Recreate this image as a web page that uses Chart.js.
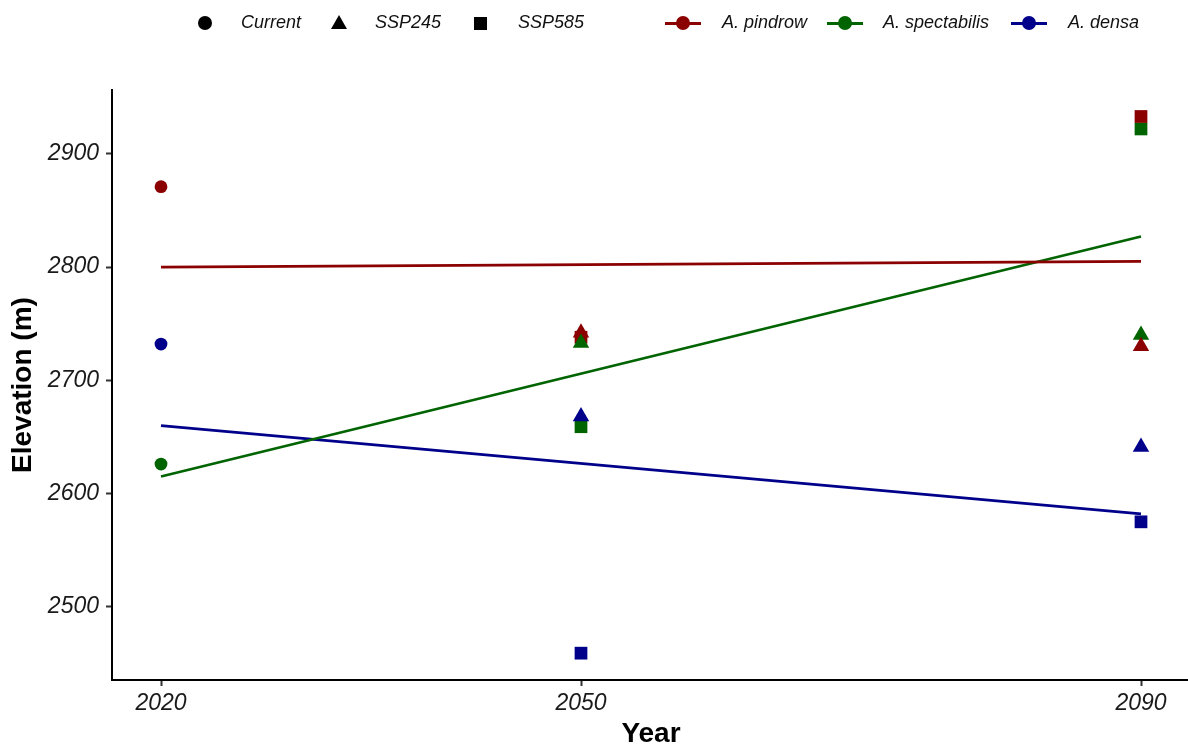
<!DOCTYPE html>
<html>
<head>
<meta charset="utf-8">
<title>Elevation by year</title>
<script src="https://cdn.jsdelivr.net/npm/chart.js@4.4.1/dist/chart.umd.min.js"></script>
<style>
  html, body { margin: 0; padding: 0; background: #fff; }
  #wrap { position: relative; width: 1188px; height: 748px; overflow: hidden; font-family: "Liberation Sans", Arial, sans-serif; }
  #chart { position: absolute; left: 0; top: 0; }
  .lg-text { position: absolute; top: 13px; font-size: 18px; line-height: 18px; font-style: italic; color: #111; white-space: nowrap; }
  .lg-circle { position: absolute; width: 14px; height: 14px; border-radius: 50%; background: #000; }
  .lg-tri { position: absolute; width: 0; height: 0; border-left: 8px solid transparent; border-right: 8px solid transparent; border-bottom: 14px solid #000; }
  .lg-square { position: absolute; width: 13px; height: 13px; background: #000; }
  .lg-line { position: absolute; height: 3px; }
  .lg-dot { position: absolute; width: 14px; height: 14px; border-radius: 50%; }
</style>
</head>
<body>
<div id="wrap">
  <canvas id="chart" width="1190" height="748"></canvas>
  <div id="legend"></div>
</div>
<script>
// Species and their colours
const species = ['A. pindrow', 'A. spectabilis', 'A. densa'];
const speciesColors = ['#8B0000', '#006400', '#00008B'];

// Scenario names shown in the shape legend
const scenarios = ['Current', 'SSP245', 'SSP585'];

// Years
const currentYear = 2020;
const futureYears = [2050, 2090];
const trendYears = [2020, 2090];

// Current elevation (m), one value per species
const currentElevation = [2871, 2626, 2732];

// SSP245 elevation (m) for 2050 and 2090
const pindrowSSP245 = [2742, 2730];
const spectabilisSSP245 = [2733, 2740];
const densaSSP245 = [2668, 2641];

// SSP585 elevation (m) for 2050 and 2090
const pindrowSSP585 = [2738, 2933];
const spectabilisSSP585 = [2659, 2922];
const densaSSP585 = [2459, 2575];

// Linear trend per species, at 2020 and 2090
const pindrowTrend = [2800, 2805];
const spectabilisTrend = [2615, 2827];
const densaTrend = [2660, 2582];

// Axis ticks
const xTicks = [2020, 2050, 2090];
const yTicks = [2500, 2600, 2700, 2800, 2900];

const ssp245 = [pindrowSSP245, spectabilisSSP245, densaSSP245];
const ssp585 = [pindrowSSP585, spectabilisSSP585, densaSSP585];
const trends = [pindrowTrend, spectabilisTrend, densaTrend];

// Stacking of overlapping markers per year (later index drawn on top)
const stackByYear = { 2050: [0, 1, 2], 2090: [1, 0, 2] };

function markerDataset(label, values, style, radius) {
  const data = [], colors = [];
  futureYears.forEach((yr, j) => {
    stackByYear[yr].forEach(i => {
      data.push({ x: yr, y: values[i][j] });
      colors.push(speciesColors[i]);
    });
  });
  return {
    type: 'scatter', label, data,
    pointStyle: style, pointRadius: radius, pointHoverRadius: radius,
    pointBackgroundColor: colors, pointBorderColor: colors, pointBorderWidth: 0,
    showLine: false
  };
}

const datasets = [];
// triangles on top, then squares, circles, and the trend lines underneath
datasets.push(markerDataset('SSP245', ssp245, 'triangle', 9.5));
datasets.push(markerDataset('SSP585', ssp585, 'rect', 9));
datasets.push({
  type: 'scatter', label: 'Current',
  data: currentElevation.map(v => ({ x: currentYear, y: v })),
  pointStyle: 'circle', pointRadius: 6.4, pointHoverRadius: 6.4,
  pointBackgroundColor: speciesColors, pointBorderColor: speciesColors, pointBorderWidth: 0,
  showLine: false
});
species.forEach((name, i) => {
  datasets.push({
    type: 'line', label: name,
    data: trendYears.map((yr, j) => ({ x: yr, y: trends[i][j] })),
    borderColor: speciesColors[i], borderWidth: 2.6,
    pointRadius: 0, pointHoverRadius: 0, fill: false, tension: 0
  });
});

const tickFont = { family: '"Liberation Sans", Arial, sans-serif', size: 23, style: 'italic' };
const titleFont = { family: '"Liberation Sans", Arial, sans-serif', size: 28, weight: 'bold' };

new Chart(document.getElementById('chart'), {
  type: 'scatter',
  data: { datasets },
  options: {
    responsive: false,
    animation: false,
    devicePixelRatio: 1,
    layout: { autoPadding: false, padding: { top: 90, left: 0, right: 0, bottom: 0 } },
    plugins: { legend: { display: false }, tooltip: { enabled: false } },
    scales: {
      x: {
        type: 'linear', min: 2016.5, max: 2093.5,
        afterBuildTicks: s => { s.ticks = xTicks.map(v => ({ value: v })); },
        afterFit: s => { s.height = 68; s.paddingLeft = 0; s.paddingRight = 0; },
        ticks: { font: tickFont, color: '#1a1a1a', padding: 4, maxRotation: 0, autoSkip: false,
                 callback: v => String(v) },
        grid: { display: true, drawOnChartArea: false, drawTicks: true, tickLength: 6, tickColor: '#333', tickWidth: 2 },
        border: { display: true, color: '#000', width: 2 },
        title: { display: true, text: 'Year', font: Object.assign({ lineHeight: 1 }, titleFont), color: '#000', padding: { top: 0, bottom: 0 } }
      },
      y: {
        type: 'linear', min: 2435.3, max: 2956.4,
        afterBuildTicks: s => { s.ticks = yTicks.map(v => ({ value: v })); },
        afterFit: s => { s.width = 112; s.paddingTop = 0; s.paddingBottom = 0; },
        ticks: { font: tickFont, color: '#1a1a1a', padding: 7, autoSkip: false,
                 callback: v => String(v) },
        grid: { display: true, drawOnChartArea: false, drawTicks: true, tickLength: 6, tickColor: '#333', tickWidth: 2 },
        border: { display: true, color: '#000', width: 2 },
        title: { display: true, text: 'Elevation (m)', font: Object.assign({ lineHeight: 1.2 }, titleFont), color: '#000', padding: { top: 6, bottom: 0 } }
      }
    }
  }
});

// Legend: scenario shapes, then species line keys
const legend = document.getElementById('legend');
function add(cls, css, text) {
  const d = document.createElement('div');
  d.className = cls;
  Object.assign(d.style, css);
  if (text) d.textContent = text;
  legend.appendChild(d);
}
const cy = 23;
add('lg-circle', { left: (205 - 7) + 'px', top: (cy - 7) + 'px' });
add('lg-text', { left: '241px' }, scenarios[0]);
add('lg-tri', { left: (339 - 8) + 'px', top: (cy - 8) + 'px' });
add('lg-text', { left: '375px' }, scenarios[1]);
add('lg-square', { left: (480 - 6.5) + 'px', top: (cy - 6.5) + 'px' });
add('lg-text', { left: '518px' }, scenarios[2]);

const keyCenters = [683, 845, 1029];
const textLefts = [722, 883, 1068];
species.forEach((name, i) => {
  const c = keyCenters[i];
  add('lg-line', { left: (c - 18) + 'px', top: (cy - 1.5) + 'px', width: '36px', background: speciesColors[i] });
  add('lg-dot', { left: (c - 7) + 'px', top: (cy - 7) + 'px', background: speciesColors[i] });
  add('lg-text', { left: textLefts[i] + 'px' }, name);
});
</script>
</body>
</html>
